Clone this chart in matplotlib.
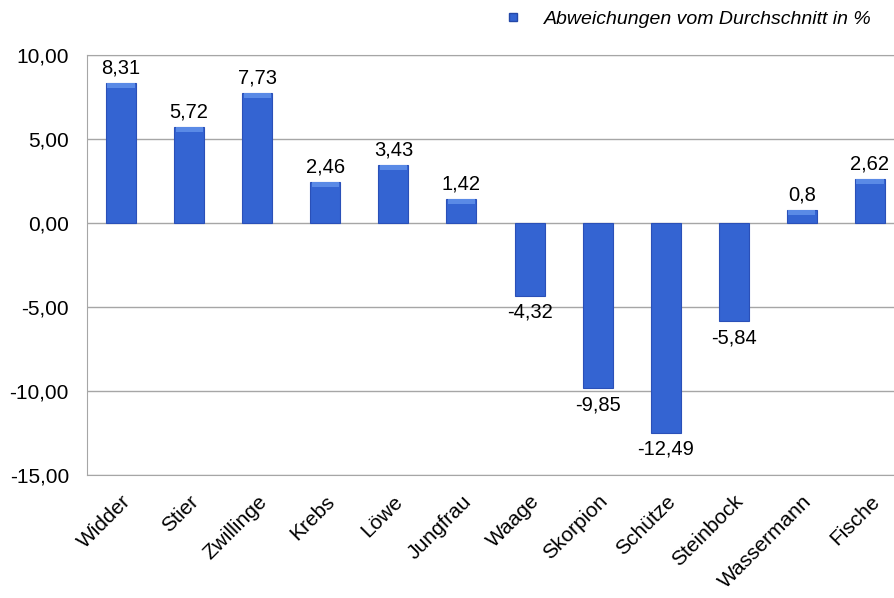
import matplotlib
matplotlib.use("Agg")
import matplotlib.pyplot as plt
from matplotlib.lines import Line2D

plt.rcParams['font.family'] = ['Liberation Sans', 'DejaVu Sans']

categories = ["Widder", "Stier", "Zwillinge", "Krebs", "Löwe", "Jungfrau",
              "Waage", "Skorpion", "Schütze", "Steinbock", "Wassermann", "Fische"]
values = [8.31, 5.72, 7.73, 2.46, 3.43, 1.42, -4.32, -9.85, -12.49, -5.84, 0.8, 2.62]
value_labels = ["8,31", "5,72", "7,73", "2,46", "3,43", "1,42",
                "-4,32", "-9,85", "-12,49", "-5,84", "0,8", "2,62"]
yticks = [10, 5, 0, -5, -10, -15]
ytick_labels = ["10,00", "5,00", "0,00", "-5,00", "-10,00", "-15,00"]
legend_label = "Abweichungen vom Durchschnitt in %"

fig = plt.figure(figsize=(8.95, 5.98), dpi=100)
ax = fig.add_axes([87/895, 1-475/598, 817/895, 420/598])

x = list(range(len(categories)))
ax.bar(x, values, width=0.44, color='#3464D2', edgecolor='#2A50B8', linewidth=0.8, zorder=3)
# lighter top bevel on positive bars
for xi, v in zip(x, values):
    if v > 0:
        h = min(0.3, v * 0.5)
        ax.bar(xi, h, bottom=v - h, width=0.40, color='#5A8AE6', linewidth=0, zorder=4)

ax.set_xlim(-0.5, len(categories) - 0.5)
ax.set_ylim(-15, 10)
ax.set_yticks(yticks)
ax.set_yticklabels(ytick_labels, fontsize=15)
ax.set_xticks(x)
ax.set_xticklabels(categories, rotation=45, ha='right', rotation_mode='anchor', fontsize=15)
ax.tick_params(axis='y', length=0, pad=13)
ax.tick_params(axis='x', length=0, pad=12)
ax.grid(axis='y', color='#A6A6A6', linewidth=1, zorder=0)
for s in ax.spines.values():
    s.set_color('#A6A6A6')

for xi, v, lab in zip(x, values, value_labels):
    if v >= 0:
        ax.annotate(lab, (xi, v), xytext=(0, 4), textcoords='offset points',
                    ha='center', va='bottom', fontsize=14.5)
    else:
        ax.annotate(lab, (xi, v), xytext=(0, -5), textcoords='offset points',
                    ha='center', va='top', fontsize=14.5)

handle = Line2D([], [], marker='s', linestyle='none', markersize=6,
                markerfacecolor='#3464D2', markeredgecolor='#2448A8')
fig.legend([handle], [legend_label], loc='center left', bbox_to_anchor=(476/895, 1-19/598),
           frameon=False, prop={'style': 'italic', 'size': 14}, handletextpad=0.6)

fig.savefig("out.png", dpi=100)
